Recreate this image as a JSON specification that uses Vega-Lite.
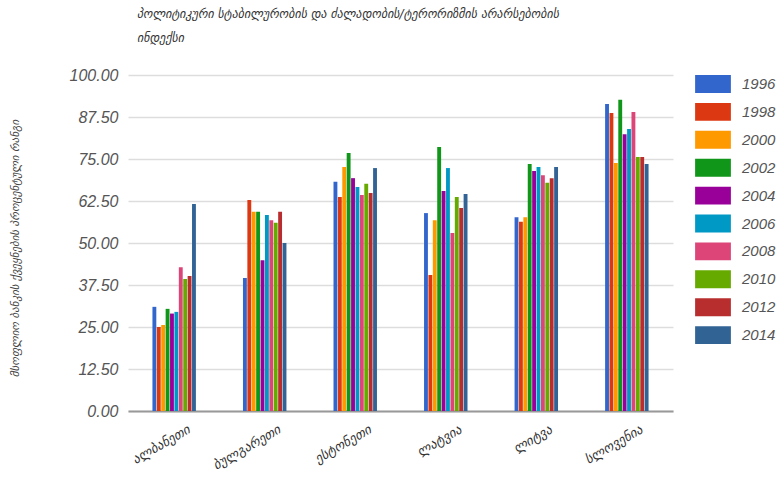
{
  "$schema": "https://vega.github.io/schema/vega-lite/v6.json",
  "width": 545,
  "height": 336,
  "autosize": {"type": "none"},
  "padding": {"left": 128, "top": 75, "right": 111, "bottom": 69},
  "background": "white",
  "title": {
    "text": ["პოლიტიკური სტაბილურობის და ძალადობის/ტერორიზმის არარსებობის", "ინდექსი"],
    "anchor": "start",
    "frame": "group",
    "dx": 9,
    "offset": 22,
    "font": "DejaVu Sans",
    "fontSize": 12,
    "fontStyle": "italic",
    "fontWeight": "normal",
    "color": "#333333",
    "lineHeight": 24
  },
  "data": {
    "values": [
      {"country": "ალბანეთი", "year": "1996", "value": 31.0},
      {"country": "ალბანეთი", "year": "1998", "value": 25.0},
      {"country": "ალბანეთი", "year": "2000", "value": 25.6},
      {"country": "ალბანეთი", "year": "2002", "value": 30.4},
      {"country": "ალბანეთი", "year": "2004", "value": 29.0},
      {"country": "ალბანეთი", "year": "2006", "value": 29.5},
      {"country": "ალბანეთი", "year": "2008", "value": 42.8},
      {"country": "ალბანეთი", "year": "2010", "value": 39.3},
      {"country": "ალბანეთი", "year": "2012", "value": 40.2},
      {"country": "ალბანეთი", "year": "2014", "value": 61.6},
      {"country": "ბულგარეთი", "year": "1996", "value": 39.6},
      {"country": "ბულგარეთი", "year": "1998", "value": 62.8},
      {"country": "ბულგარეთი", "year": "2000", "value": 59.3},
      {"country": "ბულგარეთი", "year": "2002", "value": 59.3},
      {"country": "ბულგარეთი", "year": "2004", "value": 44.9},
      {"country": "ბულგარეთი", "year": "2006", "value": 58.3},
      {"country": "ბულგარეთი", "year": "2008", "value": 56.8},
      {"country": "ბულგარეთი", "year": "2010", "value": 56.0},
      {"country": "ბულგარეთი", "year": "2012", "value": 59.3},
      {"country": "ბულგარეთი", "year": "2014", "value": 50.0},
      {"country": "ესტონეთი", "year": "1996", "value": 68.2},
      {"country": "ესტონეთი", "year": "1998", "value": 63.7},
      {"country": "ესტონეთი", "year": "2000", "value": 72.6},
      {"country": "ესტონეთი", "year": "2002", "value": 76.8},
      {"country": "ესტონეთი", "year": "2004", "value": 69.3},
      {"country": "ესტონეთი", "year": "2006", "value": 66.7},
      {"country": "ესტონეთი", "year": "2008", "value": 64.3},
      {"country": "ესტონეთი", "year": "2010", "value": 67.6},
      {"country": "ესტონეთი", "year": "2012", "value": 64.9},
      {"country": "ესტონეთი", "year": "2014", "value": 72.3},
      {"country": "ლატვია", "year": "1996", "value": 58.9},
      {"country": "ლატვია", "year": "1998", "value": 40.5},
      {"country": "ლატვია", "year": "2000", "value": 56.8},
      {"country": "ლატვია", "year": "2002", "value": 78.6},
      {"country": "ლატვია", "year": "2004", "value": 65.5},
      {"country": "ლატვია", "year": "2006", "value": 72.3},
      {"country": "ლატვია", "year": "2008", "value": 53.0},
      {"country": "ლატვია", "year": "2010", "value": 63.7},
      {"country": "ლატვია", "year": "2012", "value": 60.4},
      {"country": "ლატვია", "year": "2014", "value": 64.6},
      {"country": "ლიტვა", "year": "1996", "value": 57.7},
      {"country": "ლიტვა", "year": "1998", "value": 56.3},
      {"country": "ლიტვა", "year": "2000", "value": 57.7},
      {"country": "ლიტვა", "year": "2002", "value": 73.5},
      {"country": "ლიტვა", "year": "2004", "value": 71.4},
      {"country": "ლიტვა", "year": "2006", "value": 72.6},
      {"country": "ლიტვა", "year": "2008", "value": 70.2},
      {"country": "ლიტვა", "year": "2010", "value": 67.9},
      {"country": "ლიტვა", "year": "2012", "value": 69.3},
      {"country": "ლიტვა", "year": "2014", "value": 72.6},
      {"country": "სლოვენია", "year": "1996", "value": 91.4},
      {"country": "სლოვენია", "year": "1998", "value": 88.7},
      {"country": "სლოვენია", "year": "2000", "value": 73.8},
      {"country": "სლოვენია", "year": "2002", "value": 92.6},
      {"country": "სლოვენია", "year": "2004", "value": 82.4},
      {"country": "სლოვენია", "year": "2006", "value": 83.9},
      {"country": "სლოვენია", "year": "2008", "value": 89.0},
      {"country": "სლოვენია", "year": "2010", "value": 75.6},
      {"country": "სლოვენია", "year": "2012", "value": 75.6},
      {"country": "სლოვენია", "year": "2014", "value": 73.5}
    ]
  },
  "mark": {"type": "bar"},
  "encoding": {
    "x": {
      "field": "country",
      "type": "nominal",
      "sort": null,
      "scale": {"paddingInner": 0.52, "paddingOuter": 0.27},
      "axis": {
        "title": null,
        "labelAngle": -30,
        "labelFont": "DejaVu Sans",
        "labelFontSize": 13,
        "labelFontStyle": "italic",
        "labelColor": "#333333",
        "labelOffset": 12,
        "labelPadding": 12,
        "ticks": false,
        "domainColor": "#999999",
        "domainWidth": 2,
        "grid": false
      }
    },
    "xOffset": {
      "field": "year",
      "type": "nominal",
      "scale": {"paddingInner": 0.12}
    },
    "y": {
      "field": "value",
      "type": "quantitative",
      "scale": {"domain": [0, 100], "nice": false},
      "axis": {
        "values": [0, 12.5, 25, 37.5, 50, 62.5, 75, 87.5, 100],
        "format": ".2f",
        "labelFont": "Liberation Sans",
        "labelFontSize": 16,
        "labelFontStyle": "italic",
        "labelColor": "#555555",
        "labelPadding": 10,
        "ticks": false,
        "domain": false,
        "gridColor": "#dddddd",
        "gridWidth": 1.5,
        "title": "მსოფლიო ბანკის ქვეყნების პროცენტული რანგი",
        "titleFont": "DejaVu Sans",
        "titleFontSize": 11,
        "titleFontStyle": "italic",
        "titleFontWeight": "normal",
        "titleColor": "#444444",
        "titleAngle": -90,
        "titleAlign": "center",
        "titleBaseline": "middle",
        "titleX": -113,
        "titleY": 173
      }
    },
    "color": {
      "field": "year",
      "type": "nominal",
      "scale": {
        "range": ["#3366cc", "#dc3912", "#ff9900", "#109618", "#990099", "#0099c6", "#dd4477", "#66aa00", "#b82e2e", "#316395"]
      },
      "legend": {
        "title": null,
        "orient": "none",
        "legendX": 576,
        "legendY": 0,
        "symbolType": "M-2,-1H2V1H-2Z",
        "symbolSize": 320,
        "symbolOpacity": 1,
        "symbolStrokeWidth": 0,
        "labelOffset": 20,
        "labelFont": "Liberation Sans",
        "labelFontSize": 15,
        "labelFontStyle": "italic",
        "labelColor": "#555555",
        "rowPadding": 9.9
      }
    }
  },
  "config": {"view": {"stroke": null}}
}
